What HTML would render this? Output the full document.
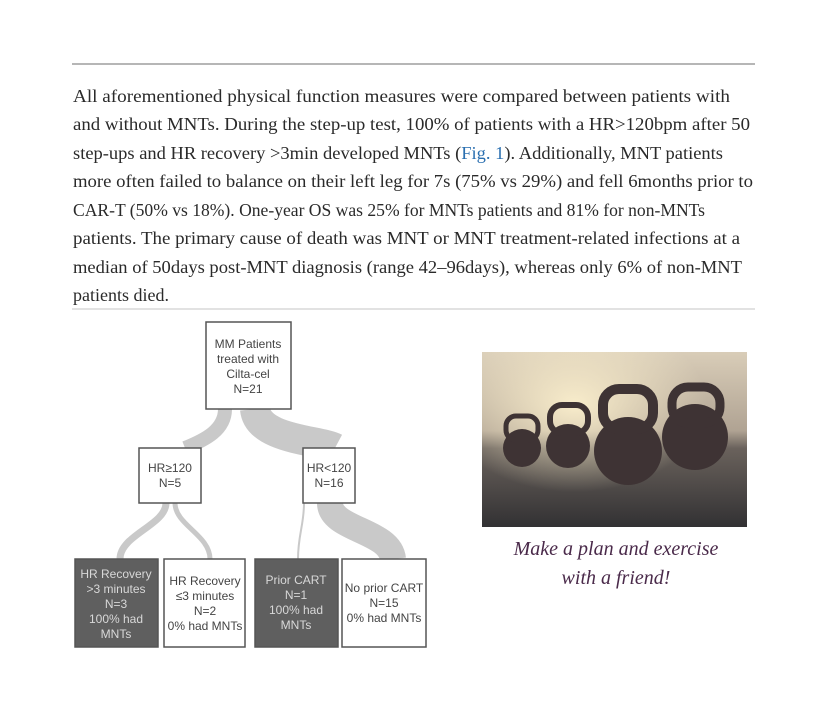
<!DOCTYPE html>
<html><head><meta charset="utf-8"><style>
html,body{margin:0;padding:0;background:#fff;}
svg{display:block}
</style></head><body>
<svg width="825" height="720" viewBox="0 0 825 720" xmlns="http://www.w3.org/2000/svg">
<rect width="825" height="720" fill="#fff"/>
<line x1="72" y1="64" x2="755" y2="64" stroke="#8a8a8a" stroke-width="1.2"/>
<line x1="72" y1="309" x2="755" y2="309" stroke="#d0d0d0" stroke-width="1.2"/>
<g font-family="Liberation Serif, serif" font-size="18" fill="#2a2a2a">
<text x="73" y="102" textLength="657" lengthAdjust="spacingAndGlyphs">All aforementioned physical function measures were compared between patients with</text>
<text x="73" y="130" textLength="677" lengthAdjust="spacingAndGlyphs">and without MNTs. During the step-up test, 100% of patients with a HR&gt;120bpm after 50</text>
<text x="73" y="159" textLength="650" lengthAdjust="spacingAndGlyphs">step-ups and HR recovery &gt;3min developed MNTs (<tspan fill="#2a6fb0">Fig. 1</tspan>). Additionally, MNT patients</text>
<text x="73" y="187" textLength="680" lengthAdjust="spacingAndGlyphs">more often failed to balance on their left leg for 7s (75% vs 29%) and fell 6months prior to</text>
<text x="73" y="216" textLength="632" lengthAdjust="spacingAndGlyphs">CAR-T (50% vs 18%). One-year OS was 25% for MNTs patients and 81% for non-MNTs</text>
<text x="73" y="244" textLength="667" lengthAdjust="spacingAndGlyphs">patients. The primary cause of death was MNT or MNT treatment-related infections at a</text>
<text x="73" y="273" textLength="669" lengthAdjust="spacingAndGlyphs">median of 50days post-MNT diagnosis (range 42–96days), whereas only 6% of non-MNT</text>
<text x="73" y="301">patients died.</text>
</g>
<g fill="none" stroke="#c9c9c9" stroke-linecap="butt">
<path d="M225 409 C225 430 205 440 185 448" stroke-width="14"/>
<path d="M255 409 C258 440 320 440 335 448" stroke-width="30"/>
<path d="M166 503 C166 525 120 535 120 559" stroke-width="7"/>
<path d="M175 503 C175 525 210 535 210 559" stroke-width="5"/>
<path d="M304 503 C304 525 298 535 298 559" stroke-width="2"/>
<path d="M330 503 C330 530 390 530 393 559" stroke-width="26"/>
</g>
<g stroke="#555" stroke-width="1.5" fill="#fff">
<rect x="206" y="322" width="85" height="87"/>
<rect x="139" y="448" width="62" height="55"/>
<rect x="303" y="448" width="52" height="55"/>
<rect x="75" y="559" width="83" height="88" fill="#5f5f5f"/>
<rect x="164" y="559" width="81" height="88"/>
<rect x="255" y="559" width="83" height="88" fill="#5f5f5f"/>
<rect x="342" y="559" width="84" height="88"/>
</g>
<g font-family="Liberation Sans, sans-serif" font-size="12" text-anchor="middle" fill="#444">
<text x="248" y="348">MM Patients</text>
<text x="248" y="363">treated with</text>
<text x="248" y="378">Cilta-cel</text>
<text x="248" y="393">N=21</text>
<text x="170" y="472">HR≥120</text>
<text x="170" y="487">N=5</text>
<text x="329" y="472">HR&lt;120</text>
<text x="329" y="487">N=16</text>
<g fill="#d8d8d8">
<text x="116" y="578">HR Recovery</text>
<text x="116" y="593">&gt;3 minutes</text>
<text x="116" y="608">N=3</text>
<text x="116" y="623">100% had</text>
<text x="116" y="638">MNTs</text>
<text x="296" y="584">Prior CART</text>
<text x="296" y="599">N=1</text>
<text x="296" y="614">100% had</text>
<text x="296" y="629">MNTs</text>
</g>
<text x="205" y="585">HR Recovery</text>
<text x="205" y="600">≤3 minutes</text>
<text x="205" y="615">N=2</text>
<text x="205" y="630">0% had MNTs</text>
<text x="384" y="592">No prior CART</text>
<text x="384" y="607">N=15</text>
<text x="384" y="622">0% had MNTs</text>
</g>
<defs>
<linearGradient id="bg" x1="0" y1="0" x2="0" y2="1">
<stop offset="0" stop-color="#d9cdb8"/><stop offset="0.45" stop-color="#b0a393"/><stop offset="0.55" stop-color="#6a625c"/><stop offset="1" stop-color="#323133"/>
</linearGradient>
<radialGradient id="glow" cx="0.35" cy="0.3" r="0.5"><stop offset="0" stop-color="#fff3d0" stop-opacity="0.9"/><stop offset="1" stop-color="#fff3d0" stop-opacity="0"/></radialGradient>
</defs>
<rect x="482" y="352" width="265" height="175" fill="url(#bg)"/>
<rect x="482" y="352" width="265" height="175" fill="url(#glow)"/>
<g fill="#3e3334" stroke="#3e3334">
<circle cx="522" cy="448" r="19" stroke="none"/><rect x="506" y="416" width="32" height="24" rx="10" fill="none" stroke-width="5"/>
<circle cx="568" cy="446" r="22" stroke="none"/><rect x="550" y="405" width="38" height="28" rx="12" fill="none" stroke-width="6"/>
<circle cx="695" cy="437" r="33" stroke="none"/><rect x="672" y="387" width="48" height="36" rx="16" fill="none" stroke-width="9"/>
<circle cx="628" cy="451" r="34" stroke="none"/><rect x="603" y="389" width="50" height="40" rx="16" fill="none" stroke-width="10"/>
</g>
<g font-family="Liberation Serif, serif" font-style="italic" font-size="20" fill="#4a2a4a" text-anchor="middle">
<text x="616" y="555">Make a plan and exercise</text>
<text x="616" y="584">with a friend!</text>
</g>
</svg>
</body></html>
